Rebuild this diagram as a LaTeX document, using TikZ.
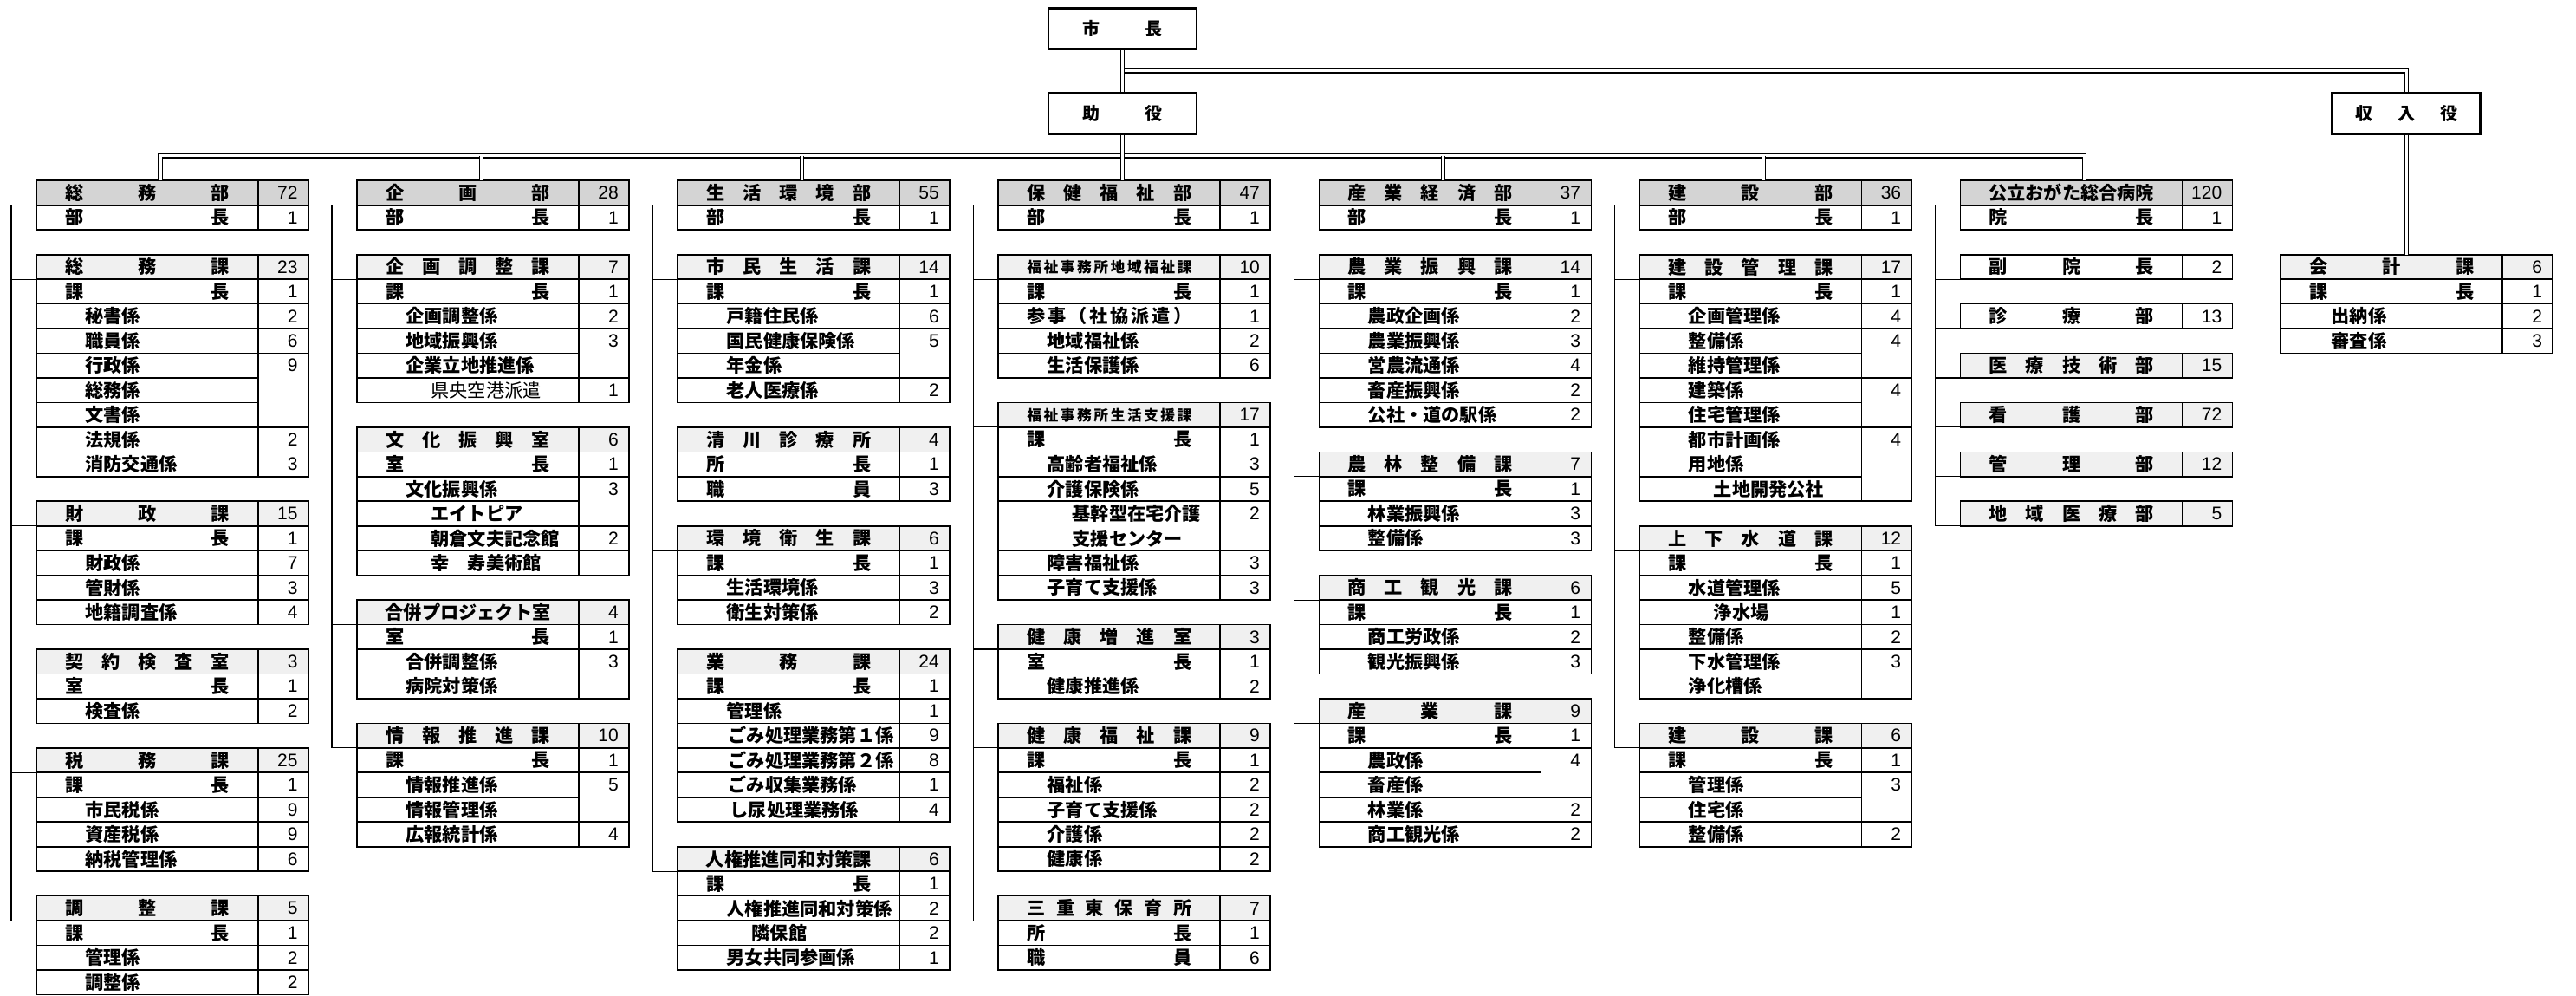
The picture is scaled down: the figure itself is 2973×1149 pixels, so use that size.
\documentclass[tikz,border=0pt]{standalone}
\usepackage{fontspec}
\setmainfont{Liberation Sans}
\newfontfamily\jpfont{Noto Sans CJK JP}
\newcommand\jpb{\jpfont\bfseries\fontsize{10.6pt}{12pt}\selectfont}
\newcommand\jpbs{\jpfont\bfseries\fontsize{8.4pt}{10pt}\selectfont}
\newcommand\jpr{\jpfont\mdseries\fontsize{10.6pt}{12pt}\selectfont}
\newcommand\numf{\fontsize{10.5pt}{12pt}\selectfont}
\definecolor{deptc}{RGB}{212,212,212}
\definecolor{secc}{RGB}{240,240,240}
\newcommand\hdtxt[1]{\makebox[95pt]{\foreach \chr [count=\idx] in {#1}{\ifnum\idx>1 \hfill\fi\chr}}}
% header row: row, fill, chars, number
\newcommand\HD[4]{%
 \node[cell,fill=#2,minimum width=128pt,minimum height=14.23pt] (\CC-#1) at (\LL,{208.3+28.46*#1}) {\hdtxt{#3}};
 \node[cell,fill=#2,minimum width=29pt,minimum height=14.23pt] (\CC-#1n) at ({\LL+256},{208.3+28.46*#1}) {};
 \node[num] (\CC-#1v) at ({\LL+302},{222.53+28.46*#1}) {#4};}
\newcommand\HDs[4]{%
 \node[cell,fill=#2,minimum width=128pt,minimum height=14.23pt,font=\jpbs] (\CC-#1) at (\LL,{208.3+28.46*#1}) {\hdtxt{#3}};
 \node[cell,fill=#2,minimum width=29pt,minimum height=14.23pt] (\CC-#1n) at ({\LL+256},{208.3+28.46*#1}) {};
 \node[num] (\CC-#1v) at ({\LL+302},{222.53+28.46*#1}) {#4};}
% number cell: row, span, number
\newcommand\NM[3]{%
 \node[cell,minimum width=29pt,minimum height={#2*14.23pt}] (\CC-#1n) at ({\LL+256},{208.3+28.46*#1}) {};
 \node[num] (\CC-#1v) at ({\LL+302},{222.53+28.46*#1}) {#3};}
% name cell: row, span, indent, text
\newcommand\RW[4]{%
 \node[cell,minimum width=128pt,minimum height={#2*14.23pt}] (\CC-#1) at (\LL,{208.3+28.46*#1}) {};
 \node[txt] (\CC-#1t) at ({\LL+#3},{222.53+28.46*#1}) {#4};}
% spread row: row, chars, number
\newcommand\SP[3]{%
 \node[cell,minimum width=128pt,minimum height=14.23pt] (\CC-#1) at (\LL,{208.3+28.46*#1}) {\hdtxt{#2}};
 \NM{#1}{1}{#3}}
% bus and branches
\newcommand\BUS[2]{%
 \coordinate (\CC-bus) at ({\LL-29},{208.3+28.46*(#1+1)});
 \draw[bus] (\CC-bus) -- (\CC-bus |- \CC-#2.south west);}
\newcommand\BR[1]{\draw[branch] (\CC-bus |- \CC-#1.south west) -- (\CC-#1.south west);}
\begin{document}
\begin{tikzpicture}[x=0.5pt,y=-0.5pt,
  cell/.style={draw,line width=0.85pt,anchor=north west,inner sep=0pt,outer sep=0pt,font=\jpb},
  txt/.style={anchor=west,inner sep=0pt,font=\jpb},
  num/.style={anchor=east,inner sep=0pt,font=\numf},
  topbox/.style={draw,line width=1.3pt,minimum width=85.5pt,minimum height=23.5pt,inner sep=0pt,fill=white,
    font=\jpfont\bfseries\fontsize{10pt}{12pt}\selectfont},
  dbl/.style={draw,line width=0.55pt,double=white,double distance=1.5pt},
  bus/.style={line width=0.75pt},
  branch/.style={line width=0.6pt}]
\path[use as bounding box,fill=white] (0,0) rectangle (2973,1149);

% ---------- top ----------
\node[topbox] (mayor) at (1295.3,33.3) {\makebox[46pt]{市\hfill 長}};
\node[topbox] (deputy) at (1295.3,130.9) {\makebox[46pt]{助\hfill 役}};
\node[topbox] (treas) at (2777,130.9) {\makebox[59pt]{収\hfill 入\hfill 役}};

% ---------- column 1 ----------
\def\LL{42}\def\CC{a}
\HD{0}{deptc}{総,務,部}{72}
\SP{1}{部,長}{1}
\HD{3}{secc}{総,務,課}{23}
\SP{4}{課,長}{1}
\RW{5}{1}{56}{秘書係}\NM{5}{1}{2}
\RW{6}{1}{56}{職員係}\NM{6}{1}{6}
\RW{7}{1}{56}{行政係}\NM{7}{3}{9}
\RW{8}{1}{56}{総務係}
\RW{9}{1}{56}{文書係}
\RW{10}{1}{56}{法規係}\NM{10}{1}{2}
\RW{11}{1}{56}{消防交通係}\NM{11}{1}{3}
\HD{13}{secc}{財,政,課}{15}
\SP{14}{課,長}{1}
\RW{15}{1}{56}{財政係}\NM{15}{1}{7}
\RW{16}{1}{56}{管財係}\NM{16}{1}{3}
\RW{17}{1}{56}{地籍調査係}\NM{17}{1}{4}
\HD{19}{secc}{契,約,検,査,室}{3}
\SP{20}{室,長}{1}
\RW{21}{1}{56}{検査係}\NM{21}{1}{2}
\HD{23}{secc}{税,務,課}{25}
\SP{24}{課,長}{1}
\RW{25}{1}{56}{市民税係}\NM{25}{1}{9}
\RW{26}{1}{56}{資産税係}\NM{26}{1}{9}
\RW{27}{1}{56}{納税管理係}\NM{27}{1}{6}
\HD{29}{secc}{調,整,課}{5}
\SP{30}{課,長}{1}
\RW{31}{1}{56}{管理係}\NM{31}{1}{2}
\RW{32}{1}{56}{調整係}\NM{32}{1}{2}
\BUS{0}{29}
\foreach \r in {0,3,13,19,23,29}{\BR{\r}}
\coordinate (dA) at ({\LL+143},180);

% ---------- column 2 ----------
\def\LL{412.1}\def\CC{b}
\HD{0}{deptc}{企,画,部}{28}
\SP{1}{部,長}{1}
\HD{3}{secc}{企,画,調,整,課}{7}
\SP{4}{課,長}{1}
\RW{5}{1}{56}{企画調整係}\NM{5}{1}{2}
\RW{6}{1}{56}{地域振興係}\NM{6}{2}{3}
\RW{7}{1}{56}{企業立地推進係}
\RW{8}{1}{85}{\jpr 県央空港派遣}\NM{8}{1}{1}
\HD{10}{secc}{文,化,振,興,室}{6}
\SP{11}{室,長}{1}
\RW{12}{1}{56}{文化振興係}\NM{12}{2}{3}
\RW{13}{1}{85}{エイトピア}
\RW{14}{1}{85}{朝倉文夫記念館}\NM{14}{1}{2}
\RW{15}{1}{85}{幸　寿美術館}\NM{15}{1}{}
\HD{17}{secc}{合,併,プ,ロ,ジ,ェ,ク,ト,室}{4}
\SP{18}{室,長}{1}
\RW{19}{1}{56}{合併調整係}\NM{19}{2}{3}
\RW{20}{1}{56}{病院対策係}
\HD{22}{secc}{情,報,推,進,課}{10}
\SP{23}{課,長}{1}
\RW{24}{1}{56}{情報推進係}\NM{24}{2}{5}
\RW{25}{1}{56}{情報管理係}
\RW{26}{1}{56}{広報統計係}\NM{26}{1}{4}
\BUS{0}{22}
\foreach \r in {0,3,10,17,22}{\BR{\r}}
\coordinate (dB) at ({\LL+143},180);

% ---------- column 3 ----------
\def\LL{782.2}\def\CC{c}
\HD{0}{deptc}{生,活,環,境,部}{55}
\SP{1}{部,長}{1}
\HD{3}{secc}{市,民,生,活,課}{14}
\SP{4}{課,長}{1}
\RW{5}{1}{56}{戸籍住民係}\NM{5}{1}{6}
\RW{6}{1}{56}{国民健康保険係}\NM{6}{2}{5}
\RW{7}{1}{56}{年金係}
\RW{8}{1}{56}{老人医療係}\NM{8}{1}{2}
\HD{10}{secc}{清,川,診,療,所}{4}
\SP{11}{所,長}{1}
\SP{12}{職,員}{3}
\HD{14}{secc}{環,境,衛,生,課}{6}
\SP{15}{課,長}{1}
\RW{16}{1}{56}{生活環境係}\NM{16}{1}{3}
\RW{17}{1}{56}{衛生対策係}\NM{17}{1}{2}
\HD{19}{secc}{業,務,課}{24}
\SP{20}{課,長}{1}
\RW{21}{1}{56}{管理係}\NM{21}{1}{1}
\RW{22}{1}{58}{ごみ処理業務第１係}\NM{22}{1}{9}
\RW{23}{1}{58}{ごみ処理業務第２係}\NM{23}{1}{8}
\RW{24}{1}{58}{ごみ収集業務係}\NM{24}{1}{1}
\RW{25}{1}{60}{し尿処理業務係}\NM{25}{1}{4}
\HD{27}{secc}{人,権,推,進,同,和,対,策,課}{6}
\SP{28}{課,長}{1}
\RW{29}{1}{56}{人権推進同和対策係}\NM{29}{1}{2}
\RW{30}{1}{85}{隣保館}\NM{30}{1}{2}
\RW{31}{1}{56}{男女共同参画係}\NM{31}{1}{1}
\BUS{0}{27}
\foreach \r in {0,3,10,14,19,27}{\BR{\r}}
\coordinate (dC) at ({\LL+143},180);

% ---------- column 4 ----------
\def\LL{1152.3}\def\CC{d}
\HD{0}{deptc}{保,健,福,祉,部}{47}
\SP{1}{部,長}{1}
\HDs{3}{secc}{福,祉,事,務,所,地,域,福,祉,課}{10}
\SP{4}{課,長}{1}
\SP{5}{参,事,（,社,協,派,遣,）}{1}
\RW{6}{1}{56}{地域福祉係}\NM{6}{1}{2}
\RW{7}{1}{56}{生活保護係}\NM{7}{1}{6}
\HDs{9}{secc}{福,祉,事,務,所,生,活,支,援,課}{17}
\SP{10}{課,長}{1}
\RW{11}{1}{56}{高齢者福祉係}\NM{11}{1}{3}
\RW{12}{1}{56}{介護保険係}\NM{12}{1}{5}
\RW{13}{2}{85}{基幹型在宅介護}\NM{13}{2}{2}
\node[txt] (d-14t) at ({\LL+85},{222.53+28.46*14}) {支援センター};
\RW{15}{1}{56}{障害福祉係}\NM{15}{1}{3}
\RW{16}{1}{56}{子育て支援係}\NM{16}{1}{3}
\HD{18}{secc}{健,康,増,進,室}{3}
\SP{19}{室,長}{1}
\RW{20}{1}{56}{健康推進係}\NM{20}{1}{2}
\HD{22}{secc}{健,康,福,祉,課}{9}
\SP{23}{課,長}{1}
\RW{24}{1}{56}{福祉係}\NM{24}{1}{2}
\RW{25}{1}{56}{子育て支援係}\NM{25}{1}{2}
\RW{26}{1}{56}{介護係}\NM{26}{1}{2}
\RW{27}{1}{56}{健康係}\NM{27}{1}{2}
\HD{29}{secc}{三,重,東,保,育,所}{7}
\SP{30}{所,長}{1}
\SP{31}{職,員}{6}
\BUS{0}{29}
\foreach \r in {0,3,9,18,22,29}{\BR{\r}}

% ---------- column 5 ----------
\def\LL{1522.4}\def\CC{e}
\HD{0}{deptc}{産,業,経,済,部}{37}
\SP{1}{部,長}{1}
\HD{3}{secc}{農,業,振,興,課}{14}
\SP{4}{課,長}{1}
\RW{5}{1}{56}{農政企画係}\NM{5}{1}{2}
\RW{6}{1}{56}{農業振興係}\NM{6}{1}{3}
\RW{7}{1}{56}{営農流通係}\NM{7}{1}{4}
\RW{8}{1}{56}{畜産振興係}\NM{8}{1}{2}
\RW{9}{1}{56}{公社・道の駅係}\NM{9}{1}{2}
\HD{11}{secc}{農,林,整,備,課}{7}
\SP{12}{課,長}{1}
\RW{13}{1}{56}{林業振興係}\NM{13}{1}{3}
\RW{14}{1}{56}{整備係}\NM{14}{1}{3}
\HD{16}{secc}{商,工,観,光,課}{6}
\SP{17}{課,長}{1}
\RW{18}{1}{56}{商工労政係}\NM{18}{1}{2}
\RW{19}{1}{56}{観光振興係}\NM{19}{1}{3}
\HD{21}{secc}{産,業,課}{9}
\SP{22}{課,長}{1}
\RW{23}{1}{56}{農政係}\NM{23}{2}{4}
\RW{24}{1}{56}{畜産係}
\RW{25}{1}{56}{林業係}\NM{25}{1}{2}
\RW{26}{1}{56}{商工観光係}\NM{26}{1}{2}
\BUS{0}{21}
\foreach \r in {0,3,11,16,21}{\BR{\r}}
\coordinate (dE) at ({\LL+143},180);

% ---------- column 6 ----------
\def\LL{1892.5}\def\CC{f}
\HD{0}{deptc}{建,設,部}{36}
\SP{1}{部,長}{1}
\HD{3}{secc}{建,設,管,理,課}{17}
\SP{4}{課,長}{1}
\RW{5}{1}{56}{企画管理係}\NM{5}{1}{4}
\RW{6}{1}{56}{整備係}\NM{6}{2}{4}
\RW{7}{1}{56}{維持管理係}
\RW{8}{1}{56}{建築係}\NM{8}{2}{4}
\RW{9}{1}{56}{住宅管理係}
\RW{10}{1}{56}{都市計画係}\NM{10}{3}{4}
\RW{11}{1}{56}{用地係}
\RW{12}{1}{85}{土地開発公社}
\HD{14}{secc}{上,下,水,道,課}{12}
\SP{15}{課,長}{1}
\RW{16}{1}{56}{水道管理係}\NM{16}{1}{5}
\RW{17}{1}{85}{浄水場}\NM{17}{1}{1}
\RW{18}{1}{56}{整備係}\NM{18}{1}{2}
\RW{19}{1}{56}{下水管理係}\NM{19}{2}{3}
\RW{20}{1}{56}{浄化槽係}
\HD{22}{secc}{建,設,課}{6}
\SP{23}{課,長}{1}
\RW{24}{1}{56}{管理係}\NM{24}{2}{3}
\RW{25}{1}{56}{住宅係}
\RW{26}{1}{56}{整備係}\NM{26}{1}{2}
\BUS{0}{22}
\foreach \r in {0,3,14,22}{\BR{\r}}
\coordinate (dF) at ({\LL+143},180);

% ---------- column 7 ----------
\def\LL{2262.6}\def\CC{g}
\HD{0}{deptc}{公,立,お,が,た,総,合,病,院}{120}
\SP{1}{院,長}{1}
\HD{3}{white}{副,院,長}{2}
\HD{5}{white}{診,療,部}{13}
\HD{7}{secc}{医,療,技,術,部}{15}
\HD{9}{secc}{看,護,部}{72}
\HD{11}{secc}{管,理,部}{12}
\HD{13}{secc}{地,域,医,療,部}{5}
\BUS{0}{13}
\foreach \r in {0,3,5,7,9,11,13}{\BR{\r}}
\coordinate (dG) at ({\LL+143},180);

% ---------- column 8 ----------
\def\LL{2632.3}\def\CC{h}
\HD{3}{secc}{会,計,課}{6}
\SP{4}{課,長}{1}
\RW{5}{1}{58}{出納係}\NM{5}{1}{2}
\RW{6}{1}{58}{審査係}\NM{6}{1}{3}

% ---------- double connectors ----------
\coordinate (j1) at (1295.3,82);
\coordinate (j2) at (2777,82);
\draw[dbl] (j1) -- (j2) -- (treas.north);
\draw[dbl] (mayor.south) -- (deputy.north);
\draw[dbl] (treas.south) -- (treas.south |- h-3.north);
\draw[dbl] (dA |- a-0.north) -- (dA) -- (dG) -- (dG |- g-0.north);
\draw[dbl] (dB) -- (dB |- b-0.north);
\draw[dbl] (dC) -- (dC |- c-0.north);
\draw[dbl] (dE) -- (dE |- e-0.north);
\draw[dbl] (dF) -- (dF |- f-0.north);
\draw[dbl] (deputy.south) -- (deputy.south |- d-0.north);
\end{tikzpicture}
\end{document}
